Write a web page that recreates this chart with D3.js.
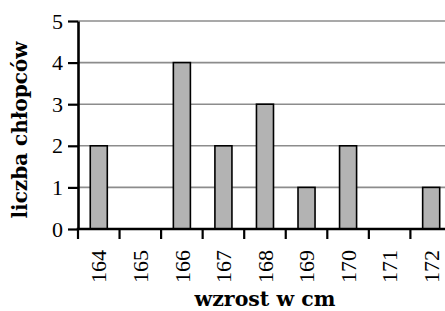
<!DOCTYPE html>
<html>
<head>
<meta charset="utf-8">
<script src="https://cdn.jsdelivr.net/npm/d3@7"></script>
<style>
	body { margin: 0; background: #fff; }
	svg { display: block; }
</style>
</head>
<body>
<div class="chart"></div>
<script>
var heights = [164, 165, 166, 167, 168, 169, 170, 171, 172],
	counts = [2, 0, 4, 2, 3, 1, 2, 0, 1],
	yTicks = [0, 1, 2, 3, 4, 5];

var width = 445,
	height = 311,
	margin = { top: 21, left: 78 },
	plotH = 208,
	step = 41.55,
	serif = "Liberation Serif, DejaVu Serif";

var svg = d3.select('.chart').append('svg')
	.attr('width', width)
	.attr('height', height);

var x = d3.scaleBand()
	.domain(heights)
	.range([margin.left, margin.left + step * heights.length])
	.padding(0);

var y = d3.scaleLinear()
	.domain([0, 5])
	.range([margin.top + plotH, margin.top]);

// gridlines
svg.append('g')
	.selectAll('line')
	.data(yTicks.slice(1))
	.enter().append('line')
	.attr('x1', margin.left)
	.attr('x2', width)
	.attr('y1', function(d) { return y(d); })
	.attr('y2', function(d) { return y(d); })
	.attr('stroke', '#8c8c8c')
	.attr('stroke-width', 1.6);

// bars
var barW = x.bandwidth() * 0.41;
svg.append('g')
	.selectAll('rect')
	.data(heights.filter(function(d, i) { return counts[i] > 0; }))
	.enter().append('rect')
	.attr('x', function(d) { return x(d) + (x.bandwidth() - barW) / 2; })
	.attr('y', function(d) { return y(counts[heights.indexOf(d)]); })
	.attr('width', barW)
	.attr('height', function(d) { return y(0) - y(counts[heights.indexOf(d)]); })
	.attr('fill', '#b3b3b3')
	.attr('stroke', '#000')
	.attr('stroke-width', 1.6);

// y axis
var yAxis = svg.append('g')
	.attr('transform', 'translate(' + margin.left + ',0)')
	.call(d3.axisLeft(y).tickValues(yTicks).tickSize(10).tickSizeOuter(0).tickPadding(5).tickFormat(d3.format('d')));
yAxis.attr('font-family', serif).attr('font-size', 22);
yAxis.select('.domain').attr('stroke-width', 2.6);
yAxis.selectAll('.tick line').attr('stroke-width', 2.2);
yAxis.selectAll('.tick text').attr('fill', '#000');

// x axis (ticks on the category edges)
var edges = heights.map(function(d) { return x(d); });
var xAxis = svg.append('g')
	.attr('font-family', serif)
	.attr('font-size', 22);
xAxis.append('line')
	.attr('x1', margin.left - 1.3)
	.attr('x2', width)
	.attr('y1', y(0))
	.attr('y2', y(0))
	.attr('stroke', '#000')
	.attr('stroke-width', 2.6);
xAxis.selectAll('.xtick')
	.data(edges)
	.enter().append('line')
	.attr('class', 'xtick')
	.attr('x1', function(d) { return d; })
	.attr('x2', function(d) { return d; })
	.attr('y1', y(0))
	.attr('y2', y(0) + 10)
	.attr('stroke', '#000')
	.attr('stroke-width', 2.2);
xAxis.selectAll('.xlabel')
	.data(heights)
	.enter().append('text')
	.attr('text-anchor', 'end')
	.attr('dy', '0.35em')
	.attr('transform', function(d) {
		return 'translate(' + (x(d) + x.bandwidth() / 2) + ',' + (y(0) + 21) + ') rotate(-90)';
	})
	.text(function(d) { return d; });

// titles
svg.append('text')
	.attr('font-family', 'DejaVu Serif')
	.attr('font-weight', 'bold')
	.attr('font-size', 20.5)
	.attr('text-anchor', 'middle')
	.attr('x', 265)
	.attr('y', 306)
	.text('wzrost w cm');

svg.append('text')
	.attr('font-family', 'DejaVu Serif')
	.attr('font-weight', 'bold')
	.attr('font-size', 20)
	.attr('text-anchor', 'middle')
	.attr('transform', 'translate(27,130) rotate(-90)')
	.text('liczba chłopców');
</script>
</body>
</html>
